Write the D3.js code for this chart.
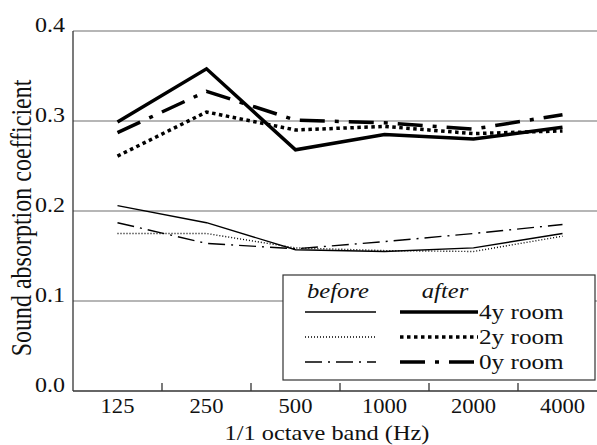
<!DOCTYPE html>
<html>
<head>
<meta charset="utf-8">
<script src="https://cdn.jsdelivr.net/npm/d3@7"></script>
<style>
  body { margin: 0; background: #fff; }
  svg text { fill: #111; }
</style>
</head>
<body>
<div id="chart"></div>
<script>
// octave bands and absorption values
var bands = ["125", "250", "500", "1000", "2000", "4000"];
var yTicks = [0.0, 0.1, 0.2, 0.3, 0.4];

var after4y  = [0.299, 0.358, 0.268, 0.285, 0.280, 0.293];
var after2y  = [0.261, 0.310, 0.290, 0.294, 0.286, 0.289];
var after0y  = [0.287, 0.333, 0.301, 0.298, 0.291, 0.307];
var before4y = [0.206, 0.187, 0.157, 0.155, 0.159, 0.175];
var before2y = [0.175, 0.175, 0.159, 0.156, 0.155, 0.172];
var before0y = [0.187, 0.164, 0.158, 0.166, 0.175, 0.185];

var series = [
  { name: "4y room", before: before4y, after: after4y, thinDash: null,       thickDash: null },
  { name: "2y room", before: before2y, after: after2y, thinDash: "1,2",      thickDash: "3.5,3.5" },
  { name: "0y room", before: before0y, after: after0y, thinDash: "17,6,2,6", thickDash: "25,10,4,10" }
];

var W = 597, H = 445;
var margin = { left: 73, top: 31, right: -10, bottom: 54 };
var FONT = "'Liberation Serif', 'Times New Roman', Times, serif";

var svg = d3.select("#chart").append("svg")
  .attr("width", W)
  .attr("height", H)
  .attr("font-family", FONT);

var x = d3.scaleBand()
  .domain(bands)
  .range([margin.left, W - margin.right]);

var y = d3.scaleLinear()
  .domain([0, 0.4])
  .range([H - margin.bottom, margin.top]);

// stretched text helper, the figure's glyphs are wider than tall
function label(g, tx, ty, str, anchor, size, sx, italic) {
  return g.append("text")
    .attr("transform", "translate(" + tx + "," + ty + ") scale(" + sx + ",1)")
    .attr("text-anchor", anchor)
    .attr("font-family", FONT)
    .style("font-size", size + "px")
    .style("font-style", italic ? "italic" : "normal")
    .text(str);
}

// horizontal grid lines
svg.append("g")
  .selectAll("line")
  .data(yTicks.slice(1))
  .enter()
  .append("line")
  .attr("x1", margin.left)
  .attr("x2", W)
  .attr("y1", function(d) { return y(d); })
  .attr("y2", function(d) { return y(d); })
  .style("stroke", "#6e6e6e")
  .style("stroke-width", "1.2px");

// y tick labels
yTicks.forEach(function(d) {
  label(svg, 65, y(d) + 1, d3.format(".1f")(d), "end", 20, 1.2, false);
});

// left and bottom axis lines
svg.append("line")
  .attr("x1", margin.left).attr("x2", margin.left)
  .attr("y1", y(0.4)).attr("y2", y(0))
  .style("stroke", "#333").style("stroke-width", "1.3px");

var xAxis = d3.axisBottom(x).tickSize(0).tickPadding(8);
var gx = svg.append("g")
  .attr("transform", "translate(0," + y(0) + ")")
  .call(xAxis);
gx.select(".domain").remove();
gx.attr("font-family", FONT);
gx.selectAll(".tick text").remove();
gx.selectAll(".tick").each(function(d) {
  label(d3.select(this), 0, 22, d, "middle", 20, 1.13, false);
});

svg.append("line")
  .attr("x1", margin.left).attr("x2", W)
  .attr("y1", y(0)).attr("y2", y(0))
  .style("stroke", "#333").style("stroke-width", "1.3px");

// tick marks between bands
svg.append("g")
  .selectAll("line")
  .data(bands.slice(1))
  .enter()
  .append("line")
  .attr("x1", function(d) { return x(d); })
  .attr("x2", function(d) { return x(d); })
  .attr("y1", y(0))
  .attr("y2", y(0) - 8)
  .style("stroke", "#333").style("stroke-width", "1.3px");

// lines
var line = d3.line()
  .x(function(d, i) { return x(bands[i]) + x.bandwidth() / 2; })
  .y(function(d) { return y(d); });

series.forEach(function(s) {
  svg.append("path")
    .datum(s.before)
    .attr("d", line)
    .attr("fill", "none")
    .attr("stroke", "#000")
    .attr("stroke-width", 1.4)
    .attr("stroke-dasharray", s.thinDash);
});
series.forEach(function(s) {
  svg.append("path")
    .datum(s.after)
    .attr("d", line)
    .attr("fill", "none")
    .attr("stroke", "#000")
    .attr("stroke-width", 3.5)
    .attr("stroke-dasharray", s.thickDash);
});

// legend
var leg = svg.append("g");
leg.append("rect")
  .attr("x", 283).attr("y", 275)
  .attr("width", 312).attr("height", 105)
  .attr("fill", "#fff")
  .attr("stroke", "#333")
  .attr("stroke-width", 1.2);

label(leg, 338, 298, "before", "middle", 21, 1.17, true);
label(leg, 445, 298, "after", "middle", 21, 1.17, true);

series.forEach(function(s, i) {
  var ly = 312 + i * 25;
  leg.append("line")
    .attr("x1", 305).attr("x2", 376).attr("y1", ly).attr("y2", ly)
    .attr("stroke", "#000").attr("stroke-width", 1.4)
    .attr("stroke-dasharray", s.thinDash);
  leg.append("line")
    .attr("x1", 400).attr("x2", 478).attr("y1", ly).attr("y2", ly)
    .attr("stroke", "#000").attr("stroke-width", 3.5)
    .attr("stroke-dasharray", s.thickDash);
  label(leg, 479, ly + 7, s.name, "start", 21, 1.2, false);
});

// axis titles
label(svg, 327, 440, "1/1 octave band (Hz)", "middle", 21, 1.16, false);

svg.append("text")
  .attr("transform", "translate(31,218) rotate(-90) scale(1,1.2)")
  .attr("text-anchor", "middle")
  .attr("font-family", FONT)
  .style("font-size", "24px")
  .text("Sound absorption coefficient");
</script>
</body>
</html>
